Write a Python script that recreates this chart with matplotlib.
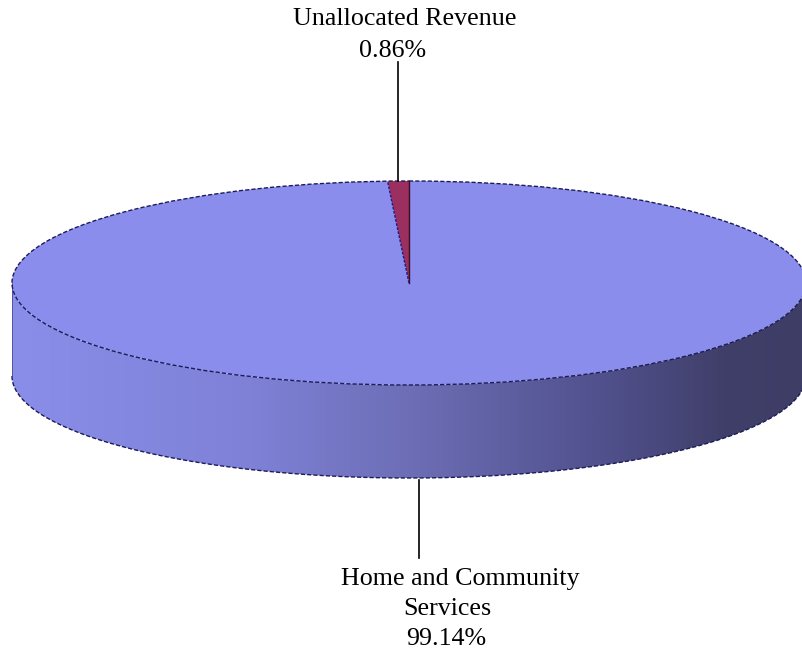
import numpy as np
import matplotlib
matplotlib.use("Agg")
import matplotlib.pyplot as plt
from matplotlib.patches import Wedge, PathPatch, Ellipse
from matplotlib.path import Path
from matplotlib.transforms import Affine2D
from matplotlib.colors import LinearSegmentedColormap

categories = ["Home and Community\nServices", "Unallocated Revenue"]
values = [99.14, 0.86]
pct_labels = ["99.14%", "0.86%"]
top_colors = ["#8b8dec", "#9b2f5f"]

W, H = 803, 652
fig = plt.figure(figsize=(W / 100, H / 100), dpi=100)
ax = fig.add_axes([0, 0, 1, 1])
ax.set_xlim(0, W)
ax.set_ylim(H, 0)
ax.axis("off")

cx, cy = 409, 283
a, b = 397, 102
depth = 93
tr = Affine2D().scale(a, -b).translate(cx, cy) + ax.transData

# angles: small slice starts at 90 deg going counter-clockwise
total = sum(values)
start = 90.0
angles = []
t = start
for v in values[::-1]:
    angles.append((t, t + 360 * v / total))
    t += 360 * v / total
ang = {1: angles[0], 0: angles[1]}

# wall: front half of ellipse (180..360 deg)
th = np.linspace(np.pi, 2 * np.pi, 300)
xs_top = cx + a * np.cos(th)
ys_top = cy - b * np.sin(th)
xs_bot = xs_top[::-1]
ys_bot = (cy - b * np.sin(th) + depth)[::-1]
verts = np.concatenate([np.column_stack([xs_top, ys_top]), np.column_stack([xs_bot, ys_bot]), [[xs_top[0], ys_top[0]]]])
codes = [Path.MOVETO] + [Path.LINETO] * (len(verts) - 2) + [Path.CLOSEPOLY]
wall_path = Path(verts, codes)
wall_patch = PathPatch(wall_path, facecolor="none", edgecolor="none")
ax.add_patch(wall_patch)
cmap = LinearSegmentedColormap.from_list("wall", [(0.0, "#8b8ee9"), (0.3, "#7e81d6"), (0.5, "#6d6eb6"), (0.75, "#50508c"), (0.9, "#403f69"), (1.0, "#3e3d66")])
grad = np.linspace(0, 1, 400).reshape(1, -1)
im = ax.imshow(grad, cmap=cmap, extent=[cx - a, cx + a, cy + b + depth, cy], aspect="auto", zorder=1)
im.set_clip_path(wall_patch)
ax.plot(xs_top, ys_top + depth, color="#1c1c5a", lw=1.0, ls=(0, (3, 1.5)), zorder=3)
ax.plot([cx - a, cx - a], [cy, cy + depth], color="#4a4a90", lw=0.6, zorder=3)

# top slices
for i in range(len(values)):
    t1, t2 = ang[i]
    w = Wedge((0, 0), 1, t1, t2, facecolor=top_colors[i], edgecolor="none", transform=tr, zorder=2)
    ax.add_patch(w)
ax.add_patch(Ellipse((cx, cy), 2 * a, 2 * b, facecolor="none", edgecolor="#1c1c5a", lw=1.0, ls=(0, (3, 1.5)), zorder=3))
t1, t2 = ang[1]
for tt, c in [(t1, "#3a1020"), (t2, "#1c1c8a")]:
    ax.plot([cx, cx + a * np.cos(np.radians(tt))], [cy, cy - b * np.sin(np.radians(tt))], color=c, lw=1.0, ls="-" if c == "#3a1020" else (0, (2, 1)), zorder=4)

font = dict(family="Liberation Serif", fontsize=18.7, color="black", ha="center", va="baseline")

# Unallocated label
ax.plot([398, 398], [62, cy - b], color="black", lw=1.2, zorder=5)
up_lines = categories[1].split("\n") + [pct_labels[1]]
for txt, x, y in zip(up_lines, [404.5, 393], [25, 57]):
    ax.text(x, y, txt, **font)

# Home label
ax.plot([419, 419], [cy + b + depth + 2, 558], color="black", lw=1.2, zorder=5)
lo_lines = categories[0].split("\n") + [pct_labels[0]]
for txt, x, y in zip(lo_lines, [460, 447, 446], [585, 615, 645]):
    ax.text(x, y, txt, **font)

fig.savefig("out.png", dpi=100)
